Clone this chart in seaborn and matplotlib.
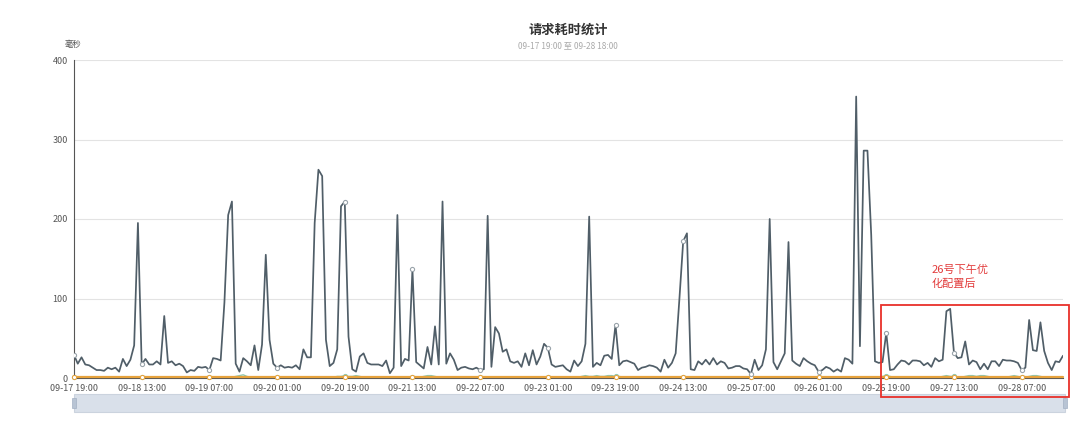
import matplotlib
matplotlib.use("Agg")
import numpy as np
import pandas as pd
import seaborn as sns
import matplotlib.pyplot as plt
from matplotlib.patches import Rectangle

# ---------------- data ----------------
tick_labels = ["09-17 19:00", "09-18 13:00", "09-19 07:00", "09-20 01:00", "09-20 19:00",
               "09-21 13:00", "09-22 07:00", "09-23 01:00", "09-23 19:00", "09-24 13:00",
               "09-25 07:00", "09-26 01:00", "09-26 19:00", "09-27 13:00", "09-28 07:00"]
tick_hours = [0, 18, 36, 54, 72, 90, 108, 126, 144, 162, 180, 198, 216, 234, 252]

# hourly response time (ms), 09-17 19:00 .. 09-28 18:00
dark_series = [
    29, 18, 26, 17, 16, 13, 10, 10, 9, 13,
    11, 13, 8, 24, 15, 23, 41, 195, 17, 24,
    17, 17, 21, 17, 78, 19, 21, 16, 18, 15,
    7, 10, 9, 14, 13, 14, 10, 25, 24, 22,
    95, 205, 222, 18, 8, 25, 21, 16, 41, 10,
    42, 155, 48, 18, 13, 16, 13, 14, 13, 16,
    11, 36, 26, 26, 195, 262, 254, 48, 15, 19,
    36, 216, 222, 52, 11, 8, 27, 31, 19, 17,
    17, 17, 15, 22, 6, 13, 205, 15, 24, 22,
    137, 20, 16, 12, 39, 17, 65, 17, 222, 18,
    31, 23, 10, 13, 14, 12, 11, 13, 10, 11,
    204, 14, 64, 56, 33, 36, 21, 19, 21, 14,
    31, 16, 35, 17, 27, 43, 38, 17, 14, 15,
    16, 11, 8, 22, 15, 21, 43, 203, 14, 19,
    16, 28, 29, 24, 67, 16, 21, 22, 20, 18,
    10, 13, 14, 16, 15, 13, 8, 23, 13, 19,
    31, 100, 172, 182, 11, 10, 21, 17, 23, 17,
    25, 17, 21, 19, 12, 13, 15, 15, 12, 11,
    5, 23, 10, 16, 36, 200, 20, 11, 21, 31,
    171, 22, 18, 15, 25, 21, 18, 16, 8, 10,
    14, 12, 8, 11, 8, 25, 23, 18, 354, 40,
    286, 286, 180, 21, 19, 20, 57, 10, 11, 17,
    22, 21, 17, 22, 22, 21, 16, 19, 14, 25,
    21, 23, 84, 87, 32, 25, 26, 46, 17, 22,
    20, 11, 18, 11, 21, 21, 15, 23, 22, 22,
    21, 19, 10, 13, 73, 35, 34, 70, 34, 19,
    10, 21, 20, 28,
]

teal_series = [
    1, 1, 1, 1, 1, 1, 1, 1, 1, 1,
    1, 1, 1, 1, 1, 1, 1, 1, 1, 1,
    1, 1, 1, 1, 1, 1, 1, 1, 1, 1,
    1, 1, 1, 1, 1, 1, 1, 1, 1, 1,
    1, 1, 1, 2, 3, 4, 2, 1, 1, 1,
    1, 1, 1, 1, 1, 1, 1, 1, 1, 1,
    1, 1, 1, 1, 1, 1, 1, 1, 1, 1,
    2, 2, 3, 2, 2, 3, 2, 1, 1, 1,
    1, 1, 1, 1, 1, 1, 1, 1, 1, 1,
    1, 1, 1, 2, 3, 3, 2, 1, 1, 1,
    1, 1, 1, 1, 1, 1, 1, 1, 1, 1,
    1, 1, 1, 1, 1, 1, 1, 1, 1, 1,
    1, 1, 1, 1, 1, 1, 1, 1, 1, 1,
    1, 1, 1, 1, 1, 2, 3, 2, 2, 3,
    2, 2, 3, 3, 2, 2, 1, 1, 1, 1,
    1, 1, 1, 1, 1, 1, 1, 1, 1, 1,
    1, 1, 1, 1, 1, 1, 1, 1, 1, 1,
    1, 1, 1, 1, 1, 1, 1, 1, 1, 1,
    1, 1, 1, 1, 1, 1, 1, 1, 1, 1,
    1, 1, 1, 1, 1, 1, 1, 1, 1, 1,
    1, 1, 1, 1, 1, 1, 1, 1, 1, 1,
    1, 1, 1, 1, 1, 2, 3, 2, 1, 1,
    1, 1, 1, 1, 1, 1, 1, 1, 1, 1,
    1, 2, 3, 2, 2, 1, 1, 2, 3, 3,
    2, 3, 3, 2, 1, 1, 1, 1, 1, 2,
    3, 2, 1, 1, 2, 3, 3, 2, 1, 1,
    1, 1, 1, 1,
]

orange_series = [
    1, 1, 1, 1, 1, 1, 1, 1, 1, 1,
    1, 1, 1, 1, 1, 1, 1, 1, 1, 1,
    1, 1, 1, 1, 1, 1, 1, 1, 1, 1,
    1, 1, 1, 1, 1, 1, 1, 1, 1, 1,
    1, 1, 1, 1, 1, 1, 1, 1, 1, 1,
    1, 1, 1, 1, 1, 1, 1, 1, 1, 1,
    1, 1, 1, 1, 1, 1, 1, 1, 1, 1,
    1, 1, 1, 1, 1, 1, 1, 1, 1, 1,
    1, 1, 1, 1, 1, 1, 1, 1, 1, 1,
    1, 1, 1, 1, 1, 1, 1, 1, 1, 1,
    1, 1, 1, 1, 1, 1, 1, 1, 1, 1,
    1, 1, 1, 1, 1, 1, 1, 1, 1, 1,
    1, 1, 1, 1, 1, 1, 1, 1, 1, 1,
    1, 1, 1, 1, 1, 1, 1, 1, 1, 1,
    1, 1, 1, 1, 1, 1, 1, 1, 1, 1,
    1, 1, 1, 1, 1, 1, 1, 1, 1, 1,
    1, 1, 1, 1, 1, 1, 1, 1, 1, 1,
    1, 1, 1, 1, 1, 1, 1, 1, 1, 1,
    1, 1, 1, 1, 1, 1, 1, 1, 1, 1,
    1, 1, 1, 1, 1, 1, 1, 1, 1, 1,
    1, 1, 1, 1, 1, 1, 1, 1, 1, 1,
    1, 1, 1, 1, 1, 1, 1, 1, 1, 1,
    1, 1, 1, 1, 1, 1, 1, 1, 1, 1,
    1, 1, 1, 1, 1, 1, 1, 1, 1, 1,
    1, 1, 1, 1, 1, 1, 1, 1, 1, 1,
    1, 1, 1, 1, 1, 1, 1, 1, 1, 1,
    1, 1, 1, 1,
]

y_ticks = [0, 100, 200, 300, 400]
title_text = "请求耗时统计"
subtitle_text = "09-17 19:00 至 09-28 18:00"
y_unit = "毫秒"
note_lines = ["26号下午优", "化配置后"]

hours = list(range(len(dark_series)))

# ---------------- style ----------------
sns.set_theme(style="white")
plt.rcParams["font.family"] = ["Noto Sans CJK SC", "DejaVu Sans"]

W, H = 1080, 428
fig = plt.figure(figsize=(W / 100, H / 100), dpi=100)
fig.patch.set_facecolor("white")

left_px, right_px, top_px, bottom_px = 74, 1063, 60, 378
ax = fig.add_axes([left_px / W, (H - bottom_px) / H,
                   (right_px - left_px) / W, (bottom_px - top_px) / H])

df = pd.DataFrame({"hour": hours, "dark": dark_series,
                   "teal": teal_series, "orange": orange_series})

sns.lineplot(data=df, x="hour", y="teal", ax=ax, color="#91c7ae", lw=1.0,
             marker="o", markevery=tick_hours, markersize=3,
             markerfacecolor="white", markeredgecolor="#91c7ae", zorder=2, clip_on=False)
sns.lineplot(data=df, x="hour", y="orange", ax=ax, color="#e6a23c", lw=1.6,
             marker="o", markevery=tick_hours, markersize=3,
             markerfacecolor="white", markeredgecolor="#e6a23c", zorder=3, clip_on=False)
sns.lineplot(data=df, x="hour", y="dark", ax=ax, color="#505e68", lw=1.25,
             marker="o", markevery=tick_hours, markersize=3,
             markerfacecolor="white", markeredgecolor="#9aa4ab",
             markeredgewidth=0.8, zorder=4)

ax.set_xlim(0, len(hours) - 1)
ax.set_ylim(0, 400)
ax.set_yticks(y_ticks)
ax.set_yticklabels([str(v) for v in y_ticks])
ax.set_xticks(tick_hours)
ax.set_xticklabels(tick_labels)
ax.set_xlabel("")
ax.set_ylabel("")
ax.grid(axis="y", color="#e3e3e3", lw=0.8)
ax.grid(axis="x", visible=False)
ax.set_axisbelow(True)
for s in ["top", "right"]:
    ax.spines[s].set_visible(False)
ax.spines["left"].set_color("#555555")
ax.spines["left"].set_linewidth(0.8)
ax.spines["bottom"].set_color("#555555")
ax.spines["bottom"].set_linewidth(0.8)
ax.tick_params(axis="both", labelsize=6.5, labelcolor="#555555", colors="#555555",
               length=3, width=0.6, pad=1.5)

# titles
fig.text(568 / W, 1 - 30 / H, title_text, ha="center", va="center",
         fontsize=9.5, fontweight="bold", color="#333333")
fig.text(568 / W, 1 - 46 / H, subtitle_text, ha="center", va="center",
         fontsize=6, color="#aaaaaa")
fig.text(73 / W, 1 - 45 / H, y_unit, ha="center", va="center",
         fontsize=6, color="#555555")

# data zoom slider
fig.add_artist(Rectangle((74 / W, (H - 412) / H), (1065 - 74) / W, 18 / H,
                         transform=fig.transFigure, facecolor="#d9e0ea",
                         edgecolor="#cbd3de", lw=0.8, zorder=1))
for hx in (74, 1065):
    fig.add_artist(Rectangle(((hx - 2) / W, (H - 408) / H), 4 / W, 10 / H,
                             transform=fig.transFigure, facecolor="#b8c4d4",
                             edgecolor="#a3b1c4", lw=0.5, zorder=2))

# annotation box
fig.add_artist(Rectangle((881 / W, (H - 397) / H), (1069 - 881) / W, (397 - 305) / H,
                         transform=fig.transFigure, facecolor="none",
                         edgecolor="#e8302a", lw=1.3, zorder=10))
fig.text(932 / W, 1 - 270 / H, note_lines[0], ha="left", va="center",
         fontsize=8, color="#e23c3c")
fig.text(932 / W, 1 - 284 / H, note_lines[1], ha="left", va="center",
         fontsize=8, color="#e23c3c")

fig.savefig("out.png", dpi=100, facecolor="white")
